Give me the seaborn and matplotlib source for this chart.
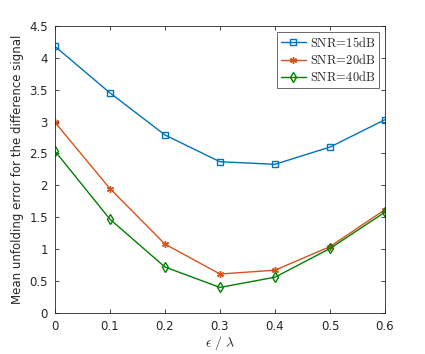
import numpy as np
import pandas as pd
import seaborn as sns
import matplotlib
matplotlib.use('Agg')
import matplotlib.pyplot as plt

eps = [0, 0.1, 0.2, 0.3, 0.4, 0.5, 0.6]
snr15 = [4.18, 3.45, 2.79, 2.37, 2.33, 2.60, 3.03]
snr20 = [2.99, 1.95, 1.08, 0.61, 0.67, 1.04, 1.62]
snr40 = [2.54, 1.47, 0.72, 0.40, 0.56, 1.01, 1.58]
labels = [r'$\mathrm{SNR\!=\!15dB}$', r'$\mathrm{SNR\!=\!20dB}$', r'$\mathrm{SNR\!=\!40dB}$']

sns.set_style('white')
plt.rcParams['font.family'] = ['DejaVu Sans']
plt.rcParams['mathtext.fontset'] = 'cm'

fig = plt.figure(figsize=(4.25, 3.54), dpi=100)
ax = fig.add_axes([0.129, 0.116, 0.777, 0.811])

colors = ['#0072BD', '#D95319', '#008000']
markers = ['s', (6, 2, 0), 'd']
for vals, lab, c, m in zip([snr15, snr20, snr40], labels, colors, markers):
    df = pd.DataFrame({'eps': eps, 'val': vals})
    sns.lineplot(data=df, x='eps', y='val', ax=ax, color=c, marker=m, lw=1.0,
                 markersize=5, markerfacecolor='none',
                 markeredgecolor=c, markeredgewidth=1.0, label=lab)

ax.set_xlim(0, 0.6)
ax.set_ylim(0, 4.5)
ax.set_xticks(eps)
ax.set_xticklabels(['0', '0.1', '0.2', '0.3', '0.4', '0.5', '0.6'])
ax.set_yticks(np.arange(0, 4.6, 0.5))
ax.set_yticklabels(['0', '0.5', '1', '1.5', '2', '2.5', '3', '3.5', '4', '4.5'])
ax.tick_params(direction='in', length=3, width=0.6, colors='#262626', labelsize=8.5,
               top=True, right=True, bottom=True, left=True, pad=5)
for s in ax.spines.values():
    s.set_color('#262626')
    s.set_linewidth(0.6)
ax.set_xlabel(r'$\epsilon\ /\ \lambda$', fontsize=10, color='#262626', labelpad=1)
ax.set_ylabel('Mean unfolding error for the difference signal', fontsize=8.5, color='#262626', labelpad=4)

leg = ax.legend(loc='upper right', fontsize=9, frameon=True, fancybox=False,
                handlelength=2.0, borderpad=0.3, labelspacing=0.25, handletextpad=0.3,
                borderaxespad=0.5)
leg.get_frame().set_edgecolor('#262626')
leg.get_frame().set_linewidth(0.6)

fig.savefig('out.png', dpi=100)
